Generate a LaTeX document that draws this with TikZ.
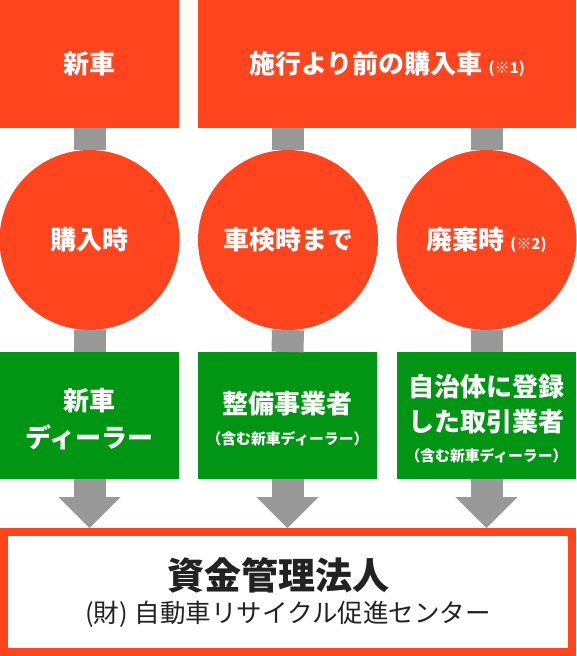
\documentclass[tikz,border=0pt]{standalone}
\usepackage{fontspec}
\newfontfamily\jpfont{Noto Sans CJK JP}
\usetikzlibrary{arrows.meta}
\definecolor{myred}{RGB}{255,68,30}
\definecolor{mygreen}{RGB}{0,150,20}
\definecolor{mygray}{RGB}{153,153,153}
\definecolor{mydark}{RGB}{34,34,34}
\newcommand{\note}[1]{{\fontsize{15}{15}\selectfont\hspace{6pt}(※#1)}}
\newcommand{\subnote}[1]{{\fontsize{14.8}{16}\selectfont #1}}
\newcommand{\pad}{\rule{0pt}{29pt}}

\begin{document}
\begin{tikzpicture}[x=1pt, y=-1pt,
  every node/.style={inner sep=0pt, outer sep=0pt, align=center, text=white,
    font=\jpfont\bfseries\fontsize{26}{36}\selectfont},
  topbox/.style={fill=myred, minimum height=128pt},
  stage/.style={circle, fill=myred, minimum size=180pt},
  dealer/.style={fill=mygreen, minimum width=179pt, minimum height=127pt},
  fund/.style={draw=myred, line width=8pt, fill=white, text=mydark,
    minimum width=568pt, minimum height=120pt, outer sep=4pt},
  bar/.style={draw=mygray, line width=32pt},
  flow/.style={bar, -{Triangle[length=31pt 0 0, width=62pt 0 0, line width=0pt 0 0]}}]

\useasboundingbox (0,0) rectangle (576,656);

% top row
\node [topbox, minimum width=179pt] (new) at (89.5,64) {新車};
\node [topbox, minimum width=378pt] (old) at (387,64) {施行より前の購入車\note{1}};

% when the fee is paid
\node [stage] (c1) at (89.5,240) {購入時};
\node [stage] (c2) at (288,240) {車検時まで};
\node [stage] (c3) at (486.5,240) {廃棄時\note{2}};

% where it is paid
\node [dealer] (g1) at (89.5,415.5) {\pad 新車\\[1pt]ディーラー};
\node [dealer] (g2) at (287.5,415.5) {\pad 整備事業者\\[-5pt]\subnote{（含む新車ディーラー）}};
\node [dealer] (g3) at (486.5,415.5) {\pad 自治体に登録\\[-1pt]した取引業者\\[-6pt]\subnote{（含む新車ディーラー）}};

\node [fund] (jarc) at (288,592) {{\fontsize{37}{37}\selectfont 資金管理法人\hspace*{20pt}}\\[-3pt]
  {\mdseries\fontsize{25.5}{27}\selectfont (財)\hspace{7pt}自動車リサイクル促進センター}};

\draw [bar] (new.south) -- (c1.north);
\draw [bar] (c2 |- old.south) -- (c2.north);
\draw [bar] (c3 |- old.south) -- (c3.north);
\foreach \i in {1,2,3}
  \draw [bar] (c\i.south) -- (g\i.north);
\foreach \i in {1,2,3}
  \draw [flow] (g\i.south) -- (g\i.south |- jarc.north);

\end{tikzpicture}
\end{document}
